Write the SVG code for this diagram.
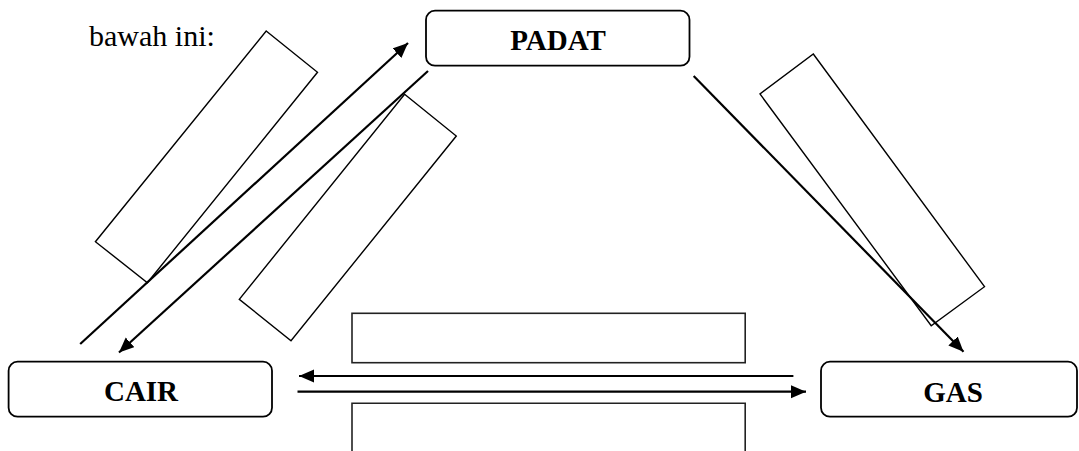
<svg xmlns="http://www.w3.org/2000/svg" width="1079" height="451" viewBox="0 0 1079 451">
<defs>
<style>
.box{fill:#fff;stroke:#000;stroke-width:1.8}
.lbl{font-family:"Liberation Serif","Times New Roman",serif;font-weight:bold;font-size:29px;text-anchor:middle;fill:#000}
.txt{font-family:"Liberation Serif","Times New Roman",serif;font-size:30px;fill:#000}
.slot{fill:none;stroke:#000;stroke-width:1.4}
.mid{fill:none;stroke:#222;stroke-width:1.6}
.arr{fill:none;stroke:#000;stroke-width:2.2}
</style>
<marker id="ah" markerUnits="userSpaceOnUse" markerWidth="16" markerHeight="14" refX="15" refY="6.5" orient="auto">
<path d="M0,0 L15,6.5 L0,13 z" fill="#000"/>
</marker>
</defs>
<rect width="1079" height="451" fill="#fff"/>
<text class="txt" x="89" y="46">bawah ini:</text>
<g id="blanks">
<polygon class="slot" points="266.2,31 317.5,72.3 147.4,282.7 95.4,241.7"/>
<polygon class="slot" points="404.6,94.3 456.3,136 291,340.7 239.3,299.3"/>
<polygon class="slot" points="813.3,54 984.5,286.7 931.2,325.7 760,94"/>
<rect class="mid" x="352" y="313.3" width="393.2" height="49.4"/>
<path class="mid" d="M352,455 V403.3 H745.2 V455"/>
</g>
<g id="connectors">
<line class="arr" x1="80.2" y1="344" x2="408" y2="43" marker-end="url(#ah)"/>
<line class="arr" x1="428" y1="71" x2="119" y2="352.5" marker-end="url(#ah)"/>
<line class="arr" x1="693.7" y1="76" x2="963.5" y2="351.7" marker-end="url(#ah)"/>
<line class="arr" x1="793.4" y1="376" x2="299" y2="376" marker-end="url(#ah)"/>
<line class="arr" x1="297.5" y1="391.7" x2="806" y2="391.7" marker-end="url(#ah)"/>
</g>
<g id="padat">
<rect class="box" x="426" y="10.7" width="263.5" height="55" rx="9"/>
<text class="lbl" x="558" y="49.5">PADAT</text>
</g>
<g id="cair">
<rect class="box" x="8.6" y="361.7" width="263.4" height="55" rx="9"/>
<text class="lbl" x="141" y="401">CAIR</text>
</g>
<g id="gas">
<rect class="box" x="821" y="361.7" width="256" height="55" rx="9"/>
<text class="lbl" x="953" y="402">GAS</text>
</g>
</svg>
